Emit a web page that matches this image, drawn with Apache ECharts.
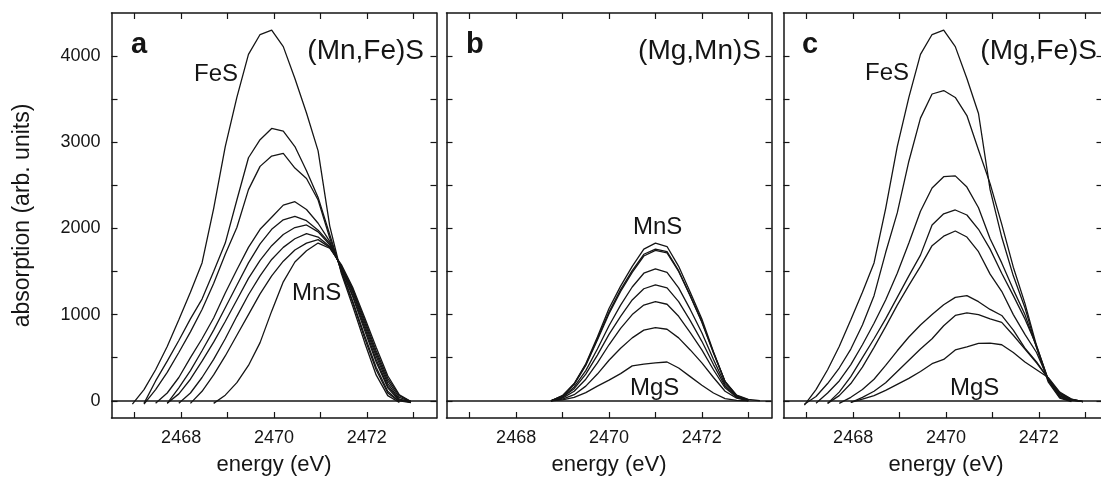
<!DOCTYPE html>
<html>
<head>
<meta charset="utf-8">
<script src="https://cdn.jsdelivr.net/npm/echarts@6/dist/echarts.min.js"></script>
<style>
  html, body { margin: 0; padding: 0; background: #fff; }
  #chart { width: 1101px; height: 489px; }
</style>
</head>
<body>
<div id="chart"></div>
<script>
// ---- S K-edge absorption spectra of three monosulfide solid solutions ----

// energy grid (eV) shared by panels a and c
const energyA = [2466.95, 2467.20, 2467.45, 2467.70, 2467.95, 2468.20, 2468.45, 2468.70,
  2468.95, 2469.20, 2469.45, 2469.70, 2469.95, 2470.20, 2470.45, 2470.70, 2470.95,
  2471.20, 2471.45, 2471.70, 2471.95, 2472.20, 2472.45, 2472.70, 2472.95];
// energy grid (eV) for panel b
const energyB = [2468.75, 2469.00, 2469.25, 2469.50, 2469.75, 2470.00, 2470.25, 2470.50,
  2470.75, 2471.00, 2471.25, 2471.50, 2471.75, 2472.00, 2472.25, 2472.50, 2472.75,
  2473.00, 2473.25];

// panel a: (Mn,Fe)S, from FeS to MnS
const aFeS  = [-40, 130, 360, 630, 940, 1260, 1600, 2230, 2950, 3520, 4020, 4250, 4300, 4110, 3740, 3340, 2900, 2030, 1480, 1090, 680, 300, 60, -20, null];
const aMix1 = [null, -30, 230, 460, 700, 950, 1180, 1500, 1830, 2330, 2820, 3030, 3160, 3130, 2950, 2670, 2360, 1930, 1500, 1130, 730, 360, 90, -10, null];
const aMix2 = [null, -40, 130, 330, 560, 800, 1060, 1360, 1700, 2010, 2450, 2720, 2840, 2870, 2700, 2580, 2330, 1890, 1510, 1150, 760, 390, 110, -10, null];
const aMix3 = [null, null, -30, 90, 270, 500, 720, 960, 1250, 1520, 1780, 1990, 2130, 2270, 2310, 2220, 2060, 1850, 1530, 1200, 820, 450, 150, 0, -20];
const aMix4 = [null, null, null, -30, 150, 350, 580, 820, 1080, 1340, 1600, 1820, 1990, 2100, 2140, 2090, 1980, 1830, 1540, 1220, 850, 480, 170, 10, -20];
const aMix5 = [null, null, null, -30, 80, 250, 460, 680, 920, 1170, 1420, 1630, 1800, 1930, 2010, 2040, 1960, 1810, 1550, 1250, 880, 520, 200, 20, -10];
const aMix6 = [null, null, null, null, -30, 90, 270, 480, 720, 980, 1230, 1450, 1640, 1780, 1880, 1940, 1900, 1790, 1560, 1270, 910, 550, 230, 40, -10];
const aMix7 = [null, null, null, null, null, -30, 110, 300, 520, 760, 1000, 1240, 1450, 1620, 1750, 1830, 1870, 1780, 1570, 1290, 940, 580, 260, 60, -10];
const aMnS  = [null, null, null, null, null, null, null, -30, 65, 210, 410, 675, 1040, 1380, 1610, 1740, 1830, 1770, 1580, 1310, 970, 620, 290, 70, -10];

// panel b: (Mg,Mn)S, from MnS towards MgS
const bMnS  = [0, 60, 200, 430, 740, 1070, 1330, 1560, 1760, 1830, 1790, 1560, 1260, 950, 570, 220, 50, 0, null];
const bMix1 = [0, 60, 195, 420, 720, 1030, 1290, 1510, 1700, 1760, 1730, 1510, 1220, 920, 560, 220, 60, 10, null];
const bMix2 = [0, 55, 190, 410, 705, 1010, 1270, 1490, 1680, 1745, 1715, 1500, 1215, 910, 555, 225, 65, 15, 0];
const bMix3 = [0, 45, 160, 350, 600, 870, 1110, 1320, 1480, 1530, 1490, 1310, 1060, 790, 480, 190, 50, 10, null];
const bMix4 = [0, 40, 140, 310, 530, 770, 980, 1170, 1300, 1345, 1310, 1150, 930, 690, 420, 170, 45, 5, null];
const bMix5 = [0, 30, 110, 250, 440, 650, 840, 1000, 1110, 1150, 1120, 980, 790, 590, 360, 150, 40, 5, null];
const bMix6 = [0, 20, 70, 170, 310, 470, 610, 730, 820, 850, 830, 730, 590, 440, 270, 110, 30, 0, null];
const bMix7 = [0, 10, 40, 95, 170, 240, 315, 405, 425, 440, 450, 380, 280, 180, 90, 25, 5, 0, null];

// panel c: (Mg,Fe)S, from FeS towards MgS
const cFeS  = [-50, 130, 360, 630, 940, 1260, 1600, 2230, 2950, 3520, 4020, 4250, 4300, 4110, 3740, 3334, 2450, 1900, 1450, 1080, 620, 220, 30, -10, null];
const cMix1 = [-40, 50, 200, 380, 600, 880, 1220, 1720, 2180, 2780, 3280, 3560, 3600, 3520, 3310, 2910, 2520, 2050, 1550, 1130, 640, 240, 40, -5, null];
const cMix2 = [null, -30, 90, 230, 420, 650, 900, 1170, 1480, 1830, 2200, 2470, 2600, 2610, 2480, 2240, 1880, 1600, 1290, 1000, 620, 240, 50, 0, null];
const cMix3 = [null, null, -30, 100, 280, 500, 720, 950, 1200, 1450, 1690, 2040, 2170, 2214, 2156, 1990, 1760, 1480, 1220, 950, 640, 250, 60, 5, -10];
const cMix4 = [null, null, -30, 60, 200, 390, 620, 860, 1110, 1340, 1560, 1800, 1910, 1970, 1900, 1730, 1470, 1270, 1000, 770, 560, 250, 70, 10, -10];
const cMix5 = [null, null, null, -30, 40, 130, 250, 410, 580, 740, 880, 1000, 1115, 1200, 1220, 1150, 1060, 990, 820, 610, 450, 260, 80, 15, -10];
const cMix6 = [null, null, null, null, -20, 40, 110, 210, 340, 470, 600, 720, 870, 990, 1020, 1000, 950, 910, 760, 600, 440, 260, 90, 20, -10];
const cMix7 = [null, null, null, null, -20, 20, 60, 120, 190, 260, 340, 430, 480, 590, 625, 665, 670, 650, 560, 450, 360, 270, 100, 20, -10];

// axis ticks and labels
const xTicks = [2467, 2468, 2469, 2470, 2471, 2472, 2473];
const xLabels = [2468, 2470, 2472];
const yTicks = [0, 500, 1000, 1500, 2000, 2500, 3000, 3500, 4000];
const yLabels = [0, 1000, 2000, 3000, 4000];

const panels = [
  { energy: energyA, curves: [aFeS, aMix1, aMix2, aMix3, aMix4, aMix5, aMix6, aMix7, aMnS] },
  { energy: energyB, curves: [bMnS, bMix1, bMix2, bMix3, bMix4, bMix5, bMix6, bMix7] },
  { energy: energyA, curves: [cFeS, cMix1, cMix2, cMix3, cMix4, cMix5, cMix6, cMix7] }
];

const FONT = 'Liberation Sans, Arial, Helvetica, sans-serif';
const INK = '#151515';
const PANEL_W = 325, PANEL_TOP = 13, PANEL_H = 405;
const panelLeft = [111.5, 446.5, 783.5];

const grid = panelLeft.map(l => ({
  left: l, top: PANEL_TOP, width: PANEL_W, height: PANEL_H,
  outerBoundsMode: 'none', containLabel: false
}));

const frameLine = { show: true, onZero: false, lineStyle: { color: INK, width: 1.5 } };
const tickStyle = { color: INK, width: 1.2 };
const plainNumber = v => String(v);

const xAxis = [];
const yAxis = [];
panels.forEach((p, i) => {
  const xBase = {
    gridIndex: i, type: 'value', min: 2466.5, max: 2473.5,
    axisLine: frameLine, splitLine: { show: false }
  };
  xAxis.push(Object.assign({}, xBase, {
    position: 'bottom',
    axisTick: { show: true, inside: true, length: 6, customValues: xTicks, lineStyle: tickStyle },
    axisLabel: { show: true, customValues: xLabels, formatter: plainNumber, margin: 11,
      fontSize: 18, color: INK, fontFamily: FONT },
    name: 'energy (eV)', nameLocation: 'middle', nameGap: 36,
    nameTextStyle: { fontSize: 22, color: INK, fontFamily: FONT }
  }));
  xAxis.push(Object.assign({}, xBase, {
    position: 'top',
    axisTick: { show: true, inside: true, length: 6, customValues: xTicks, lineStyle: tickStyle },
    axisLabel: { show: false }
  }));
  const yBase = {
    gridIndex: i, type: 'value', min: -200, max: 4500,
    axisLine: frameLine, splitLine: { show: false }
  };
  yAxis.push(Object.assign({}, yBase, {
    position: 'left',
    axisTick: { show: true, inside: true, length: 6, customValues: yTicks, lineStyle: tickStyle },
    axisLabel: { show: i === 0, customValues: yLabels, formatter: plainNumber, margin: 11,
      fontSize: 18, color: INK, fontFamily: FONT },
    name: i === 0 ? 'absorption (arb. units)' : '',
    nameLocation: 'middle', nameGap: 77,
    nameTextStyle: { fontSize: 23, color: INK, fontFamily: FONT }
  }));
  // the last panel's right edge runs just past the canvas: only its tick ends show
  const lastPanel = i === panels.length - 1;
  yAxis.push(Object.assign({}, yBase, {
    position: 'right',
    axisLine: lastPanel ? { show: false, onZero: false } : frameLine,
    axisTick: { show: true, inside: true, length: lastPanel ? 12 : 6, customValues: yTicks, lineStyle: tickStyle },
    axisLabel: { show: false }
  }));
});

const series = [];
panels.forEach((p, i) => {
  p.curves.forEach((vals, j) => {
    const s = {
      type: 'line',
      xAxisIndex: 2 * i, yAxisIndex: 2 * i,
      data: p.energy.map((e, k) => [e, vals[k] == null ? '-' : vals[k]]),
      symbol: 'none', showSymbol: false, silent: true, animation: false,
      lineStyle: { color: INK, width: 1.3 }
    };
    if (j === 0) {
      // zero baseline across the panel
      s.markLine = {
        silent: true, symbol: 'none', animation: false,
        label: { show: false },
        lineStyle: { color: INK, width: 1.5, type: 'solid' },
        data: [{ yAxis: 0 }]
      };
    }
    series.push(s);
  });
});

// panel letters, titles and end-member labels
function txt(text, x, y, size, align, bold) {
  return {
    type: 'text', x: x, y: y, silent: true, z: 100,
    style: {
      text: text, fill: INK, align: align, verticalAlign: 'middle',
      font: (bold ? 'bold ' : '') + size + 'px ' + FONT
    }
  };
}
const graphic = [
  txt('a', 131, 45, 29, 'left', true),
  txt('(Mn,Fe)S', 424, 51, 28, 'right', false),
  txt('b', 466, 45, 29, 'left', true),
  txt('(Mg,Mn)S', 761, 51, 28, 'right', false),
  txt('c', 802, 45, 29, 'left', true),
  txt('(Mg,Fe)S', 1097, 51, 28, 'right', false),
  txt('FeS', 194, 74, 24, 'left', false),
  txt('MnS', 292, 293, 24, 'left', false),
  txt('MnS', 633, 227, 24, 'left', false),
  txt('MgS', 630, 388, 24, 'left', false),
  txt('FeS', 865, 73, 24, 'left', false),
  txt('MgS', 950, 388, 24, 'left', false)
];

const chart = echarts.init(document.getElementById('chart'), null, { renderer: 'canvas' });
chart.setOption({
  animation: false,
  backgroundColor: '#ffffff',
  grid: grid,
  xAxis: xAxis,
  yAxis: yAxis,
  series: series,
  graphic: graphic
});
</script>
</body>
</html>
